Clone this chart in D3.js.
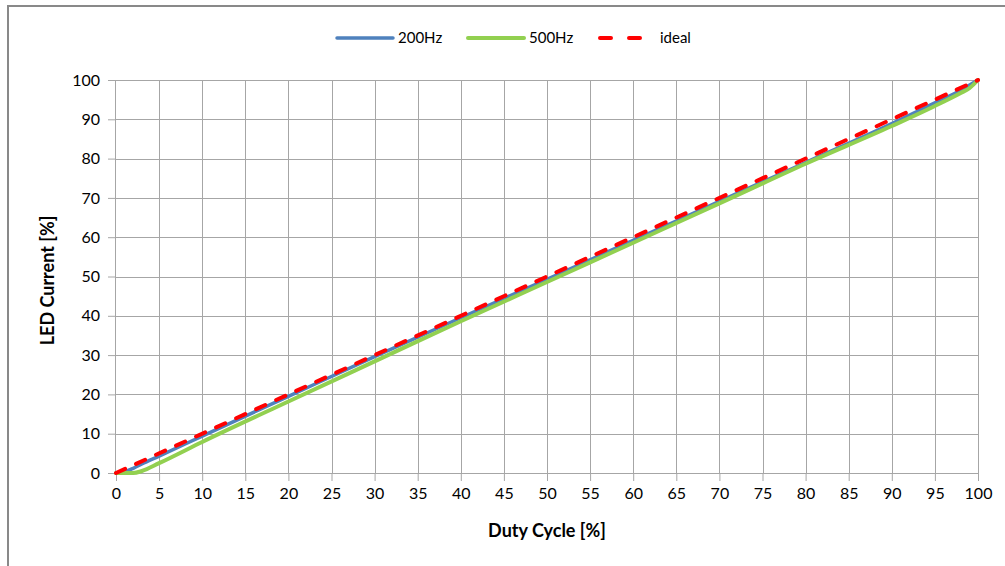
<!DOCTYPE html>
<html>
<head>
<meta charset="utf-8">
<script src="https://cdn.jsdelivr.net/npm/d3@7"></script>
<style>
body { margin: 0; background: #fff; }
svg text { font-family: Lato, "Liberation Sans", sans-serif; fill: #000; }
</style>
</head>
<body>
<script>
// duty cycle [%] -> LED current [%]
var dc200 = [0, 1, 2, 3, 5, 10, 20, 30, 40, 50, 60, 70, 80, 90, 95, 98, 100];
var cur200 = [0, 0.3, 1.2, 2.3, 4.3, 9.4, 19.5, 29.6, 39.5, 49.3, 59.2, 69.1, 79.0, 88.9, 94.2, 97.4, 100];
var dc500 = [0, 2, 3, 5, 10, 20, 30, 40, 50, 60, 70, 80, 90, 95, 98, 99, 100];
var cur500 = [0, 0, 0.5, 2.5, 7.9, 18.2, 28.4, 38.6, 48.6, 58.6, 68.6, 78.7, 88.3, 93.4, 96.7, 97.9, 100];
var dcIdeal = [0, 100];
var curIdeal = [0, 100];
var seriesNames = ["200Hz", "500Hz", "ideal"];
var xTicks = d3.range(0, 101, 5);
var yTicks = d3.range(0, 101, 10);

var width = 1005, height = 566;
var margin = {left: 116, right: 27, top: 80, bottom: 93};
var w = width - margin.left - margin.right,
	h = height - margin.top - margin.bottom;

var svg = d3.select("body").append("svg")
	.attr("width", width)
	.attr("height", height);

// chart frame
svg.append("rect")
	.attr("x", 8).attr("y", 6)
	.attr("width", 1010).attr("height", 580)
	.attr("fill", "none")
	.attr("stroke", "#898989")
	.attr("stroke-width", 2);

var g = svg.append("g")
	.attr("transform", "translate(" + margin.left + "," + margin.top + ")");

var x = d3.scaleLinear().domain([0, 100]).range([0, w]);
var y = d3.scaleLinear().domain([0, 100]).range([h, 0]);

// grid
g.append("g").selectAll("line")
	.data(xTicks.slice(1))
	.enter().append("line")
	.attr("x1", function(d) { return Math.round(x(d)) + 0.5; })
	.attr("x2", function(d) { return Math.round(x(d)) + 0.5; })
	.attr("y1", 0).attr("y2", h)
	.attr("stroke", "#a6a6a6");
g.append("g").selectAll("line")
	.data(yTicks.slice(1))
	.enter().append("line")
	.attr("y1", function(d) { return Math.round(y(d)) + 0.5; })
	.attr("y2", function(d) { return Math.round(y(d)) + 0.5; })
	.attr("x1", 0).attr("x2", w)
	.attr("stroke", "#a6a6a6");

var xAxis = g.append("g")
	.attr("transform", "translate(0," + h + ")")
	.call(d3.axisBottom(x).tickValues(xTicks).tickSize(8).tickPadding(7).tickFormat(d3.format("d")));
var yAxis = g.append("g")
	.call(d3.axisLeft(y).tickValues(yTicks).tickSize(8).tickPadding(8).tickFormat(d3.format("d")));

[xAxis, yAxis].forEach(function(a) {
	a.selectAll("path, line").attr("stroke", "#a6a6a6");
	a.select(".domain").attr("d", a === xAxis ? "M0,0.5H" + w : "M-0.5,0V" + h);
	a.selectAll("text").style("font-size", "16px").attr("fill", "#000");
});

var line = d3.line()
	.x(function(d) { return x(d[0]); })
	.y(function(d) { return y(d[1]); })
	.curve(d3.curveMonotoneX);

var series = [
	{xs: dc200, ys: cur200, color: "#4f81bd", width: 3.5, dash: null},
	{xs: dc500, ys: cur500, color: "#92d050", width: 4, dash: null},
	{xs: dcIdeal, ys: curIdeal, color: "#ff0000", width: 4, dash: "10,12"}
];

series.forEach(function(s) {
	g.append("path")
		.datum(d3.zip(s.xs, s.ys))
		.attr("fill", "none")
		.attr("stroke", s.color)
		.attr("stroke-width", s.width)
		.attr("stroke-linecap", "round")
		.attr("stroke-dasharray", s.dash)
		.attr("d", line);
});

// axis titles
svg.append("text")
	.attr("x", margin.left + w / 2)
	.attr("y", 537)
	.attr("text-anchor", "middle")
	.style("font-size", "18px")
	.style("font-weight", "bold")
	.text("Duty Cycle [%]");
svg.append("text")
	.attr("transform", "translate(54," + (margin.top + h / 2 + 4) + ") rotate(-90)")
	.attr("text-anchor", "middle")
	.style("font-size", "18px")
	.style("font-weight", "bold")
	.text("LED Current [%]");

// legend
var legendX = [337, 468, 600];
var legend = svg.append("g");
series.forEach(function(s, i) {
	var lg = legend.append("g").attr("transform", "translate(" + legendX[i] + ",38)");
	lg.append("line")
		.attr("x1", 0).attr("x2", i == 2 ? 40 : 56)
		.attr("stroke", s.color)
		.attr("stroke-width", s.width)
		.attr("stroke-linecap", "round")
		.attr("stroke-dasharray", i == 2 ? "11,18" : null);
	lg.append("text")
		.attr("x", i == 2 ? 60 : 61)
		.attr("dy", "0.35em")
		.style("font-size", "15px")
		.text(seriesNames[i]);
});
</script>
</body>
</html>
